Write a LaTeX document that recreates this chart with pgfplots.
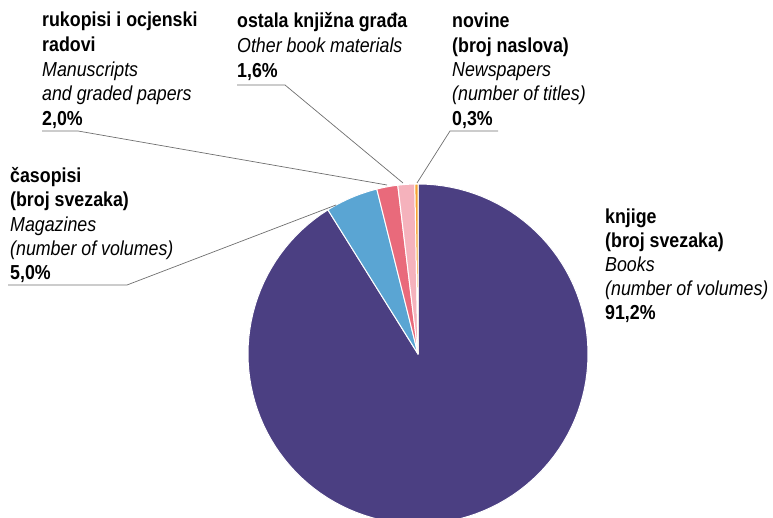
\documentclass[border=0pt]{standalone}
\usepackage{pgfplots}
\pgfplotsset{compat=1.18}
\usepackage{pgfplotstable}
\usepackage{fontspec}
\setmainfont{Liberation Sans}[FakeStretch=0.88]

\definecolor{cBooks}{HTML}{4B3F82}
\definecolor{cMag}{HTML}{5AA5D3}
\definecolor{cMan}{HTML}{E96A7B}
\definecolor{cOth}{HTML}{F5B2BC}
\definecolor{cNews}{HTML}{F6A434}
\definecolor{cLine}{HTML}{6E6E6E}

\pgfplotstableread{
name value
newspapers 0.3
other 1.6
manuscripts 2.0
magazines 5.0
books 91.2
}\piedata

\newcommand\Lb[3]{\node[anchor=base west,inner sep=0pt,font=\fontsize{20.3}{23}\selectfont\bfseries] at (axis cs:#1,#2) {#3};}
\newcommand\Li[3]{\node[anchor=base west,inner sep=0pt,font=\fontsize{20.3}{23}\selectfont\itshape] at (axis cs:#1,#2) {#3};}
\newcommand\Wedge[3]{\addplot[fill=#3, draw=white, line width=1pt, line join=round, domain=#1:#2, samples=120] ({418+170*cos(x)},{164+170*sin(x)}) -- (axis cs:418,164) -- cycle;}

\begin{document}
\begin{tikzpicture}
\path[use as bounding box] (0,0) rectangle (773bp,518bp);
\pgfplotstablegetelem{0}{value}\of\piedata \let\vA\pgfplotsretval
\pgfplotstablegetelem{1}{value}\of\piedata \let\vB\pgfplotsretval
\pgfplotstablegetelem{2}{value}\of\piedata \let\vC\pgfplotsretval
\pgfplotstablegetelem{3}{value}\of\piedata \let\vD\pgfplotsretval
\pgfplotstablegetelem{4}{value}\of\piedata \let\vE\pgfplotsretval
\pgfmathsetmacro\sc{360/(\vA+\vB+\vC+\vD+\vE)}
\pgfmathsetmacro\aA{90+\vA*\sc}
\pgfmathsetmacro\aB{\aA+\vB*\sc}
\pgfmathsetmacro\aC{\aB+\vC*\sc}
\pgfmathsetmacro\aD{\aC+\vD*\sc}
\begin{axis}[
  width=773bp, height=518bp, scale only axis,
  xmin=0, xmax=773, ymin=0, ymax=518,
  hide axis,
]
\Wedge{\aD}{450}{cBooks}
\Wedge{\aC}{\aD}{cMag}
\Wedge{\aB}{\aC}{cMan}
\Wedge{\aA}{\aB}{cOth}
\Wedge{90}{\aA}{cNews}

% leader lines
\draw[cLine, line width=0.7pt] (axis cs:42,387) -- (axis cs:78,387) -- (axis cs:387,333);
\draw[cLine, line width=0.7pt] (axis cs:237,433) -- (axis cs:285,433) -- (axis cs:403,335);
\draw[cLine, line width=0.7pt] (axis cs:498,387) -- (axis cs:450,387) -- (axis cs:417,335);
\draw[cLine, line width=0.7pt] (axis cs:8,233) -- (axis cs:127,233) -- (axis cs:336,313);

% labels
\Lb{42}{491}{rukopisi i ocjenski}
\Lb{42}{466}{radovi}
\Li{42}{441}{Manuscripts}
\Li{42}{417}{and graded papers}
\Lb{42}{392}{2,0\%}

\Lb{237}{490}{ostala knjižna građa}
\Li{237}{465}{Other book materials}
\Lb{237}{440}{1,6\%}

\Lb{452}{490}{novine}
\Lb{452}{465}{(broj naslova)}
\Li{452}{441}{Newspapers}
\Li{452}{417}{(number of titles)}
\Lb{452}{392}{0,3\%}

\Lb{10}{335}{časopisi}
\Lb{10}{311}{(broj svezaka)}
\Li{10}{286}{Magazines}
\Li{10}{262}{(number of volumes)}
\Lb{10}{238}{5,0\%}

\Lb{605}{294}{knjige}
\Lb{605}{270}{(broj svezaka)}
\Li{605}{246}{Books}
\Li{605}{222}{(number of volumes)}
\Lb{605}{198}{91,2\%}
\end{axis}
\end{tikzpicture}
\end{document}
